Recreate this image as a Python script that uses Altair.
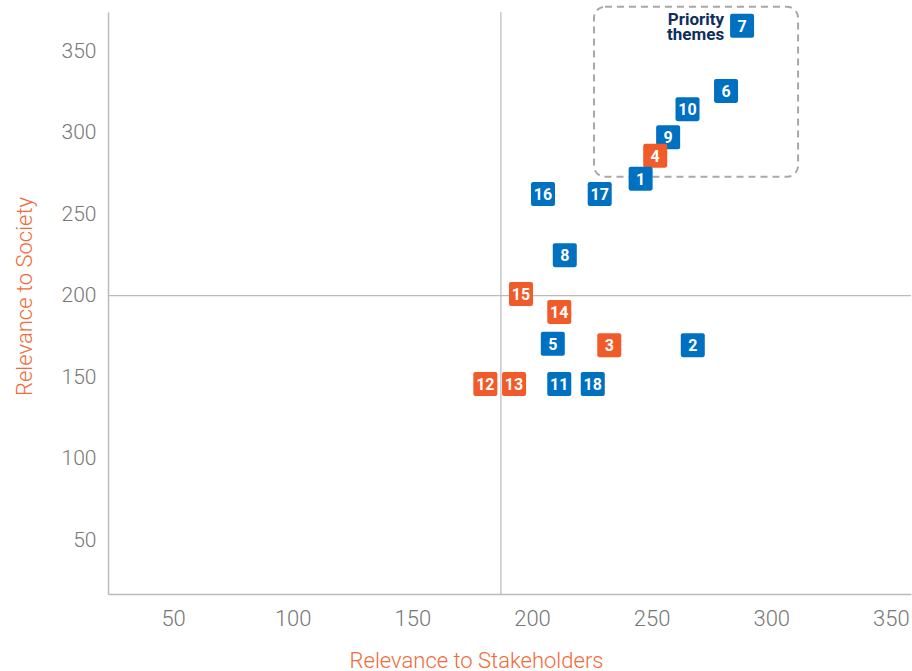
import altair as alt
import pandas as pd

# Themes: id, relevance to stakeholders (x), relevance to society (y), group
theme_ids = ["7", "6", "10", "9", "4", "1", "16", "17", "8", "15", "14", "5", "3", "2", "12", "13", "11", "18"]
stakeholders = [287.8, 281.1, 265.0, 256.9, 251.5, 245.4, 204.6, 228.3, 213.7, 195.4, 211.4, 208.7, 232.3, 267.2, 180.5, 192.5, 211.4, 225.4]
society = [365.5, 325.6, 314.4, 297.1, 285.8, 271.7, 262.3, 262.3, 224.8, 200.9, 190.0, 170.4, 169.6, 169.6, 145.7, 145.7, 145.7, 145.7]
groups = ["A", "A", "A", "A", "B", "A", "A", "A", "A", "B", "B", "A", "B", "A", "B", "B", "A", "A"]

tick_values = [50, 100, 150, 200, 250, 300, 350]
x_domain = [22.8, 358.4]
y_domain = [16.9, 374.0]

# quadrant reference lines
x_ref = [187.0]
y_ref = [200]

# priority box bounds (data units)
box_x = [225.9, 311.2]
box_y = [272.9, 377.2]
box_label = ["Priority\nthemes"]
box_label_x = [280.3]
box_label_y = [366.0]

df = pd.DataFrame({"id": theme_ids, "x": stakeholders, "y": society, "group": groups})

BLUE = "#0070C0"
ORANGE = "#F15A29"
AXIS = "#BBBBBB"

xscale = alt.Scale(domain=x_domain, nice=False, zero=False)
yscale = alt.Scale(domain=y_domain, nice=False, zero=False)

x_axis = alt.Axis(
    values=tick_values, grid=False, ticks=False, tickSize=0, domainColor=AXIS, domainWidth=1.5,
    labelFont="Roboto", labelFontWeight=300, labelFontSize=22, labelColor="#777777",
    labelPadding=24, labelBaseline="middle",
    title="Relevance to Stakeholders", titleFont="Roboto", titleFontWeight=300, titleFontSize=22,
    titleColor="#F26A3A", titleX=368, titleY=66, titleBaseline="middle", titleAlign="center",
)
y_axis = alt.Axis(
    values=tick_values, grid=False, ticks=False, tickSize=0, domainColor=AXIS, domainWidth=1.5,
    labelFont="Roboto", labelFontWeight=300, labelFontSize=21, labelColor="#777777",
    labelPadding=12, labelBaseline="middle",
    title="Relevance to Society", titleFont="Roboto", titleFontWeight=300, titleFontSize=22,
    titleColor="#F26A3A", titleX=-84, titleY=284, titleBaseline="middle", titleAlign="center",
    titleAngle=270,
)

vline = alt.Chart(pd.DataFrame({"x": x_ref})).mark_rule(color=AXIS, strokeWidth=1.2).encode(
    x=alt.X("x:Q", scale=xscale, axis=x_axis)
)
hline = alt.Chart(pd.DataFrame({"y": y_ref})).mark_rule(color=AXIS, strokeWidth=1.2).encode(
    y=alt.Y("y:Q", scale=yscale, axis=y_axis)
)

box = alt.Chart(pd.DataFrame({"x": [box_x[0]], "x2": [box_x[1]], "y": [box_y[0]], "y2": [box_y[1]]})).mark_rect(
    fill="transparent", stroke="#A8A8A8", strokeWidth=2, strokeDash=[7, 5], cornerRadius=11, clip=False
).encode(
    x=alt.X("x:Q", scale=xscale), x2="x2:Q",
    y=alt.Y("y:Q", scale=yscale), y2="y2:Q",
)

box_text = alt.Chart(pd.DataFrame({"t": box_label, "x": box_label_x, "y": box_label_y})).mark_text(
    align="right", baseline="alphabetic", font="Roboto", fontWeight="bold", fontSize=17,
    lineHeight=15, color="#0E2F5C", lineBreak="\n", clip=False
).encode(
    x=alt.X("x:Q", scale=xscale), y=alt.Y("y:Q", scale=yscale), text="t:N"
)

rounded_square = ("M -0.82 -1 L 0.82 -1 Q 1 -1 1 -0.82 L 1 0.82 Q 1 1 0.82 1 "
                  "L -0.82 1 Q -1 1 -1 0.82 L -1 -0.82 Q -1 -1 -0.82 -1 Z")

squares = alt.Chart(df).mark_point(
    shape=rounded_square, size=576, filled=True, opacity=1, strokeWidth=0
).encode(
    x=alt.X("x:Q", scale=xscale),
    y=alt.Y("y:Q", scale=yscale),
    color=alt.Color("group:N", scale=alt.Scale(domain=["A", "B"], range=[BLUE, ORANGE]), legend=None),
    order=alt.Order("idx:Q"),
).transform_window(idx="row_number()")

labels = alt.Chart(df).mark_text(
    font="Roboto", fontWeight="bold", fontSize=16, color="white", baseline="middle", align="center", dy=1
).encode(
    x=alt.X("x:Q", scale=xscale),
    y=alt.Y("y:Q", scale=yscale),
    text="id:N",
)

chart = alt.layer(vline, hline, box, box_text, squares, labels).properties(
    width=803, height=582,
    background="white",
    autosize=alt.AutoSizeParams(type="none"),
    padding={"left": 108, "top": 12, "right": 1, "bottom": 77},
).configure_view(strokeWidth=0, stroke="transparent")

chart.save("out.html", embed_options={"renderer": "svg", "actions": False})
